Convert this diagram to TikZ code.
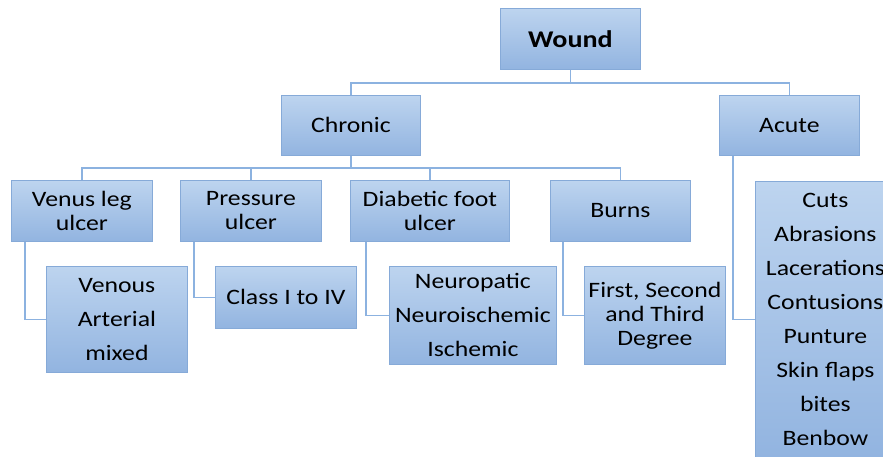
\documentclass[tikz,border=0pt]{standalone}
\usepackage{fontspec}
\setmainfont[FakeStretch=1.17]{Carlito}
\usetikzlibrary{calc}
\definecolor{boxtop}{HTML}{BDD4EF}
\definecolor{boxbot}{HTML}{92B4E0}
\definecolor{boxedge}{HTML}{86AAD8}
\definecolor{linkcol}{HTML}{8CB2E0}
\tikzset{
  box/.style={draw=boxedge, line width=0.8pt, top color=boxtop, bottom color=boxbot,
    inner sep=0pt, align=center, anchor=north west, text=black,
    font=\fontsize{22}{24}\selectfont},
  listbox/.style={box, font=\fontsize{22}{34}\selectfont},
  link/.style={draw=linkcol, line width=1.6pt}
}
\begin{document}
\begin{tikzpicture}[x=1pt,y=-1pt]
\useasboundingbox (0,0) rectangle (883,457);
\clip (0,0) rectangle (883,457);
\fill[white] (0,0) rectangle (883,457);
% level 0
\node[box, minimum width=140pt, minimum height=61pt, font=\fontsize{24}{28}\selectfont\bfseries] (wound) at (500,8) {Wound};
% level 1
\node[box, minimum width=139pt, minimum height=60pt] (chronic) at (281,95) {Chronic};
\node[box, minimum width=140pt, minimum height=60pt] (acute) at (719,95) {Acute};
% level 2
\node[box, minimum width=141pt, minimum height=61pt] (venus) at (11,180) {Venus leg\\ulcer};
\node[box, minimum width=141pt, minimum height=61pt] (pressure) at (180,180) {Pressure\\ulcer};
\node[box, minimum width=159pt, minimum height=61pt] (diabetic) at (350,180) {Diabetic foot\\ulcer};
\node[box, minimum width=140pt, minimum height=61pt] (burns) at (550,180) {Burns};
% level 3
\node[listbox, minimum width=141pt, minimum height=106pt] (venous) at (46,266) {Venous\\Arterial\\mixed};
\node[box, minimum width=141pt, minimum height=62pt] (class) at (215,266) {Class I to IV};
\node[listbox, minimum width=167pt, minimum height=98pt] (neuro) at (389,266) {Neuropatic\\Neuroischemic\\Ischemic};
\node[box, minimum width=141pt, minimum height=98pt] (degree) at (584,266) {First, Second\\and Third\\Degree};
\node[listbox, minimum width=140pt, minimum height=276pt] (acutelist) at (755,181) {Cuts\\Abrasions\\Lacerations\\Contusions\\Punture\\Skin flaps\\bites\\Benbow};
% connectors
\draw[link] (wound.south) -- ++(0,-13pt) -| (chronic.north);
\draw[link] (wound.south) -- ++(0,-13pt) -| (acute.north);
\draw[link] (chronic.south) -- ++(0,-12pt) -| (venus.north);
\draw[link] (chronic.south) -- ++(0,-12pt) -| (pressure.north);
\draw[link] (chronic.south) -- ++(0,-12pt) -| (diabetic.north);
\draw[link] (chronic.south) -- ++(0,-12pt) -| (burns.north);
\draw[link] ($(venus.south west)+(14pt,0)$) |- (venous.west);
\draw[link] ($(pressure.south west)+(14pt,0)$) |- (class.west);
\draw[link] ($(diabetic.south west)+(16pt,0)$) |- (neuro.west);
\draw[link] ($(burns.south west)+(13pt,0)$) |- (degree.west);
\draw[link] ($(acute.south west)+(14pt,0)$) |- (acutelist.west);
\end{tikzpicture}
\end{document}
